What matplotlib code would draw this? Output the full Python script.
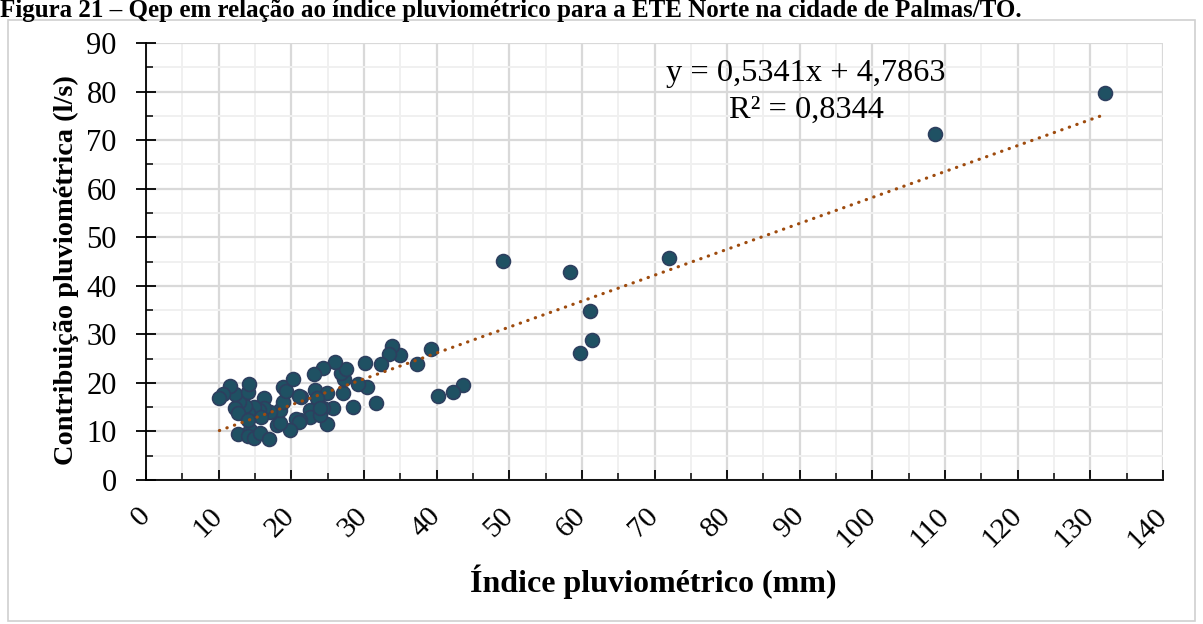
import matplotlib
matplotlib.use("Agg")
import matplotlib.pyplot as plt
from matplotlib.ticker import MultipleLocator
from matplotlib.patches import Rectangle
import numpy as np

plt.rcParams['font.family'] = ['Liberation Serif', 'DejaVu Serif']

# Data
indice_mm = [132.0, 108.6, 72.0, 58.4, 49.1, 61.1, 61.4, 59.7, 39.3, 37.3,
             35.0, 33.8, 33.4, 32.4, 30.2, 43.6, 42.3, 40.2, 31.7, 28.5,
             30.4, 29.2, 27.1, 27.2, 26.9, 27.6, 26.0, 24.4, 23.1, 23.3,
             24.9, 23.5, 21.4, 25.8, 24.3, 22.6, 22.6, 21.2, 24.9, 20.6,
             21.0, 19.8, 18.0, 18.4, 18.5, 18.8, 18.9, 19.3, 20.2, 16.2,
             17.1, 16.3, 15.5, 14.8, 14.1, 15.8, 13.6, 12.8, 12.3, 12.7,
             12.2, 14.1, 14.2, 11.6, 10.6, 10.1, 12.7, 14.3, 14.1, 14.8,
             15.7, 17.0, 14.1, 21.1, 24.0, 23.9]
contrib_ls = [79.7, 71.3, 45.7, 42.8, 45.1, 34.8, 28.8, 26.2, 26.9, 23.9,
              25.7, 27.6, 25.9, 23.9, 24.0, 19.6, 18.2, 17.4, 15.8, 15.1,
              19.2, 19.7, 18.0, 20.7, 22.0, 22.8, 24.4, 23.0, 21.8, 18.5,
              18.0, 16.8, 17.0, 14.9, 14.9, 14.4, 13.0, 12.4, 11.5, 12.5,
              12.0, 10.2, 11.3, 11.8, 14.4, 16.1, 19.2, 18.4, 20.9, 16.8,
              14.1, 14.8, 14.4, 15.0, 13.7, 13.0, 15.2, 16.0, 14.8, 13.9,
              17.8, 18.1, 19.7, 19.4, 17.8, 16.9, 9.4, 10.4, 9.1, 8.6,
              9.6, 8.4, 12.4, 17.2, 13.4, 14.8]

slope = 0.5341
intercept = 4.7863
eq_text = "y = 0,5341x + 4,7863"
r2_text = "R² = 0,8344"
title_text = ("Figura 21 – Qep em relação ao índice pluviométrico para a ETE Norte "
              "na cidade de Palmas/TO.")
xlabel = "Índice pluviométrico (mm)"
ylabel = "Contribuição pluviométrica (l/s)"

W, H = 1203, 624
fig = plt.figure(figsize=(W / 100, H / 100), dpi=100)

# outer frame
fig.patches.append(Rectangle((8 / W, 1 - 621 / H), (1195 - 8) / W, (621 - 20) / H,
                             transform=fig.transFigure, fill=False,
                             edgecolor='#D0D0D0', lw=1.2))
fig.text(0.0, 1 - 17 / H, title_text, fontsize=18, fontweight='bold',
         ha='left', va='baseline')

ax = fig.add_axes([146 / W, 1 - 480 / H, (1163 - 146) / W, (480 - 43) / H])
ax.set_xlim(0, 140)
ax.set_ylim(0, 90)

ax.xaxis.set_major_locator(MultipleLocator(10))
ax.xaxis.set_minor_locator(MultipleLocator(5))
ax.yaxis.set_major_locator(MultipleLocator(10))
ax.yaxis.set_minor_locator(MultipleLocator(5))

ax.grid(which='major', color='#D9D9D9', lw=1.6, zorder=0)
ax.grid(which='minor', color='#F0F0F0', lw=1.4, zorder=0)
ax.set_axisbelow(True)

for s in ['top', 'right']:
    ax.spines[s].set_visible(False)
for s in ['left', 'bottom']:
    ax.spines[s].set_color('black')
    ax.spines[s].set_linewidth(1.3)

ax.tick_params(axis='y', which='major', direction='inout', length=14, width=1.3,
               labelsize=22, pad=14)
ax.tick_params(axis='y', which='minor', direction='in', length=5, width=1.1)
ax.tick_params(axis='x', which='major', direction='in', length=7, width=1.3,
               labelsize=21.5, pad=23)
ax.tick_params(axis='x', which='minor', direction='in', length=5, width=1.1)
for lab in ax.get_xticklabels():
    lab.set_rotation(45)
    lab.set_ha('right')
    lab.set_va('center')
    lab.set_rotation_mode('anchor')

xs = np.array(indice_mm)
ax.scatter(indice_mm, contrib_ls, s=100, facecolor='#1F5163', edgecolor='#2D3F5F',
           linewidths=1.2, zorder=3, clip_on=False)

xl = np.array([xs.min(), xs.max()])
ax.plot(xl, slope * xl + intercept, color='#9E4B0E', lw=2.3,
        linestyle=(0, (0.1, 2.4)), dash_capstyle='round', zorder=4)

fig.text(806 / W, 1 - 73 / H, eq_text, fontsize=23.3, ha='center', va='center')
fig.text(806 / W, 1 - 110 / H, r2_text, fontsize=23.3, ha='center', va='center')

fig.text(66 / W, 1 - 270 / H, ylabel, fontsize=20.4, fontweight='bold',
         rotation=90, ha='center', va='center')
fig.text(653 / W, 1 - 582 / H, xlabel, fontsize=23, fontweight='bold',
         ha='center', va='center')

fig.savefig('out.png', dpi=100)
